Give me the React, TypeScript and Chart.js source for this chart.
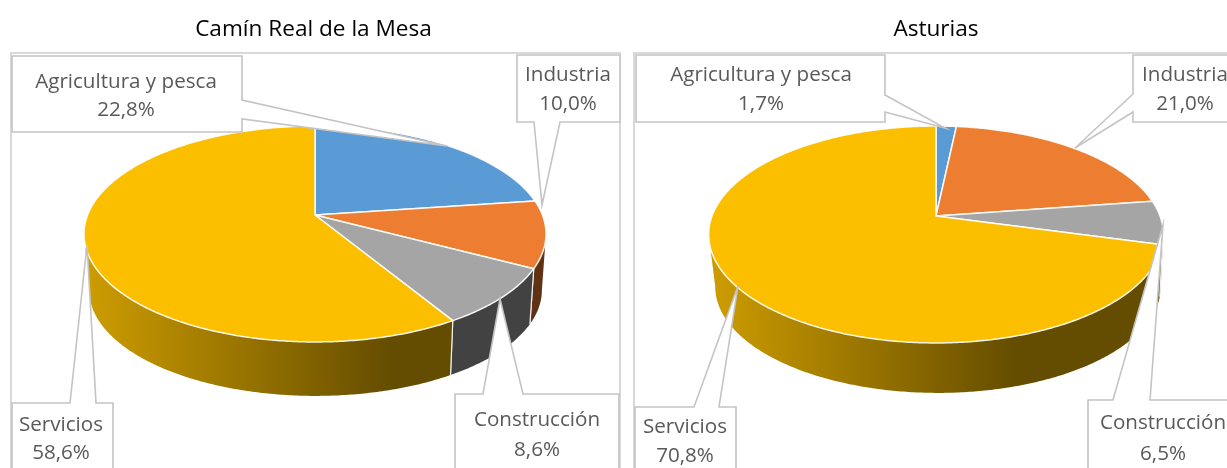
import React, { useEffect, useRef } from "react";
import { Chart, registerables } from "chart.js";

Chart.register(...registerables);

const categories = ["Agricultura y pesca", "Industria", "Construcción", "Servicios"];
const caminValues = [22.8, 10.0, 8.6, 58.6];
const asturiasValues = [1.7, 21.0, 6.5, 70.8];
const sliceColors = ["#5b9bd5", "#ed7d31", "#a5a5a5", "#fbbf00"];
const LABEL_FONT = '20.6px "Open Sans"';
const TITLE_FONT = { family: '"Open Sans"', size: 22.6 };

type Callout = { box: number[]; side: string; wedge: number[]; text: number[] };

const leftCallouts: Callout[] = [
  { box: [12, 56, 242, 132], side: "right", wedge: [100, 447, 146, 119], text: [126, 82, 110] },
  { box: [517, 55, 620, 122], side: "bottom", wedge: [560, 542, 205, 534], text: [568, 75, 104] },
  { box: [455, 394, 619, 490], side: "top", wedge: [483, 500, 299, 523], text: [537, 420, 450] },
  { box: [12, 403, 113, 490], side: "top", wedge: [70, 87, 245, 96], text: [61, 425, 453] },
];
const rightCallouts: Callout[] = [
  { box: [636, 55, 885, 122], side: "right", wedge: [95, 945, 128, 112], text: [761, 75, 104] },
  { box: [1133, 55, 1260, 122], side: "left", wedge: [112, 1075, 148, 94], text: [1185, 75, 104] },
  { box: [1088, 400, 1260, 490], side: "top", wedge: [1113, 1163, 225, 1150], text: [1163, 423, 454] },
  { box: [635, 407, 736, 490], side: "top", wedge: [694, 738, 286, 719], text: [685, 427, 456] },
];

function shade(hex: string, f: number) {
  const n = parseInt(hex.slice(1), 16);
  return `rgb(${((n >> 16) & 255) * f},${((n >> 8) & 255) * f},${(n & 255) * f})`;
}

function pie3d(cfg: any) {
  const { left, cx, cy, R, S, k, depth, lowDx, panel, callouts } = cfg;
  const pt = (t: number, low: boolean) => {
    const u = Math.sin(t);
    const v = -Math.cos(t);
    const d = 1 - k * v;
    const s = low ? 0.98 : 1;
    return [cx + (low ? lowDx : 0) + (R * s * u) / d, cy + (low ? depth : 0) + (S * s * v) / d];
  };
  const trace = (ctx: any, a: number, b: number, low: boolean) => {
    const n = Math.max(2, Math.ceil(Math.abs(b - a) / 0.01));
    for (let i = 0; i <= n; i++) {
      const p = pt(a + ((b - a) * i) / n, low);
      ctx.lineTo(p[0], p[1]);
    }
  };
  return {
    id: "pie3d",
    beforeDraw(chart: any) {
      const ctx = chart.ctx;
      ctx.save();
      ctx.translate(-left, 0);
      ctx.strokeStyle = "#d9d9d9";
      ctx.lineWidth = 2;
      ctx.strokeRect(panel[0], panel[1], panel[2], panel[3]);
      ctx.restore();
    },
    beforeDatasetDraw(chart: any) {
      const ctx = chart.ctx;
      const arcs = chart.getDatasetMeta(0).data;
      const angles = arcs.map((a: any) => {
        const p = a.getProps(["startAngle", "endAngle"], true);
        return [p.startAngle + Math.PI / 2, p.endAngle + Math.PI / 2];
      });
      const colors = chart.data.datasets[0].backgroundColor;
      const tv = Math.acos(-k);
      const rimLeft = cx - R / Math.sqrt(1 - k * k);
      ctx.save();
      ctx.translate(-left, 0);
      ctx.lineJoin = "round";
      angles.forEach(([s, e]: number[], i: number) => {
        const a = Math.max(s, tv);
        const b = Math.min(e, 2 * Math.PI - tv);
        if (b <= a) return;
        const g = ctx.createLinearGradient(rimLeft, 0, rimLeft + 310, 0);
        g.addColorStop(0, shade(colors[i], 0.82));
        g.addColorStop(1, shade(colors[i], 0.4));
        ctx.beginPath();
        trace(ctx, a, b, false);
        trace(ctx, b, a, true);
        ctx.closePath();
        ctx.fillStyle = g;
        ctx.fill();
        ctx.strokeStyle = "rgba(255,255,255,0.85)";
        ctx.lineWidth = 1.2;
        for (const t of [a, b]) {
          if (t === tv || t === 2 * Math.PI - tv) continue;
          const p = pt(t, false);
          const q = pt(t, true);
          ctx.beginPath();
          ctx.moveTo(p[0], p[1]);
          ctx.lineTo(q[0], q[1]);
          ctx.stroke();
        }
      });
      angles.forEach(([s, e]: number[], i: number) => {
        ctx.beginPath();
        ctx.moveTo(cx, cy);
        trace(ctx, s, e, false);
        ctx.closePath();
        ctx.fillStyle = colors[i];
        ctx.fill();
        ctx.strokeStyle = "rgba(255,255,255,0.9)";
        ctx.lineWidth = 1.5;
        ctx.stroke();
      });
      ctx.restore();
      return false;
    },
    afterDatasetsDraw(chart: any) {
      const ctx = chart.ctx;
      const values = chart.data.datasets[0].data;
      ctx.save();
      ctx.translate(-left, 0);
      callouts.forEach((c: Callout, i: number) => {
        const [x0, y0, x1, y1] = c.box;
        const w = c.wedge;
        ctx.beginPath();
        ctx.moveTo(x0, y0);
        if (c.side === "top") {
          ctx.lineTo(w[0], y0);
          ctx.lineTo(w[1], w[2]);
          ctx.lineTo(w[3], y0);
        }
        ctx.lineTo(x1, y0);
        if (c.side === "right") {
          ctx.lineTo(x1, w[0]);
          ctx.lineTo(w[1], w[2]);
          ctx.lineTo(x1, w[3]);
        }
        ctx.lineTo(x1, y1);
        if (c.side === "bottom") {
          ctx.lineTo(w[0], y1);
          ctx.lineTo(w[1], w[2]);
          ctx.lineTo(w[3], y1);
        }
        ctx.lineTo(x0, y1);
        if (c.side === "left") {
          ctx.lineTo(x0, w[0]);
          ctx.lineTo(w[1], w[2]);
          ctx.lineTo(x0, w[3]);
        }
        ctx.closePath();
        ctx.fillStyle = "#ffffff";
        ctx.fill();
        ctx.strokeStyle = "#c4c4c4";
        ctx.lineWidth = 1.6;
        ctx.stroke();
        ctx.fillStyle = "#595959";
        ctx.font = LABEL_FONT;
        ctx.textAlign = "center";
        ctx.textBaseline = "middle";
        ctx.fillText(chart.data.labels[i], c.text[0], c.text[1]);
        ctx.fillText(values[i].toFixed(1).replace(".", ",") + "%", c.text[0], c.text[2]);
      });
      ctx.restore();
    },
  };
}

function PieChart({ title, values, cfg }: { title: string; values: number[]; cfg: any }) {
  const ref = useRef<HTMLCanvasElement>(null);
  useEffect(() => {
    const chart = new Chart(ref.current!, {
      type: "pie",
      data: {
        labels: categories,
        datasets: [{ data: values, backgroundColor: sliceColors, borderWidth: 0 }],
      },
      options: {
        responsive: false,
        animation: false,
        layout: { padding: 0 },
        plugins: {
          legend: { display: false },
          tooltip: { enabled: false },
          title: {
            display: true,
            text: title,
            color: "#000000",
            font: { ...TITLE_FONT, weight: "normal" },
            padding: { top: 16, bottom: 6 },
          },
        },
      },
      plugins: [pie3d(cfg)],
    } as any);
    return () => chart.destroy();
  }, []);
  return (
    <canvas
      ref={ref}
      width={cfg.width}
      height={468}
      style={{ position: "absolute", left: cfg.left, top: 0, width: cfg.width, height: 468 }}
    />
  );
}

const leftCfg = {
  left: 0, width: 627, cx: 315, cy: 215, R: 227.4, S: 104.6, k: 0.176, depth: 56.5, lowDx: 0.5,
  panel: [11, 53, 609, 500], callouts: leftCallouts,
};
const rightCfg = {
  left: 627, width: 618, cx: 936, cy: 216, R: 224, S: 105.3, k: 0.1705, depth: 52.5, lowDx: 2,
  panel: [634, 53, 700, 500], callouts: rightCallouts,
};

export default function App() {
  return (
    <div style={{ position: "absolute", left: 0, top: 0, width: 1227, height: 468, overflow: "hidden", background: "#fff" }}>
      <PieChart title="Camín Real de la Mesa" values={caminValues} cfg={leftCfg} />
      <PieChart title="Asturias" values={asturiasValues} cfg={rightCfg} />
    </div>
  );
}
